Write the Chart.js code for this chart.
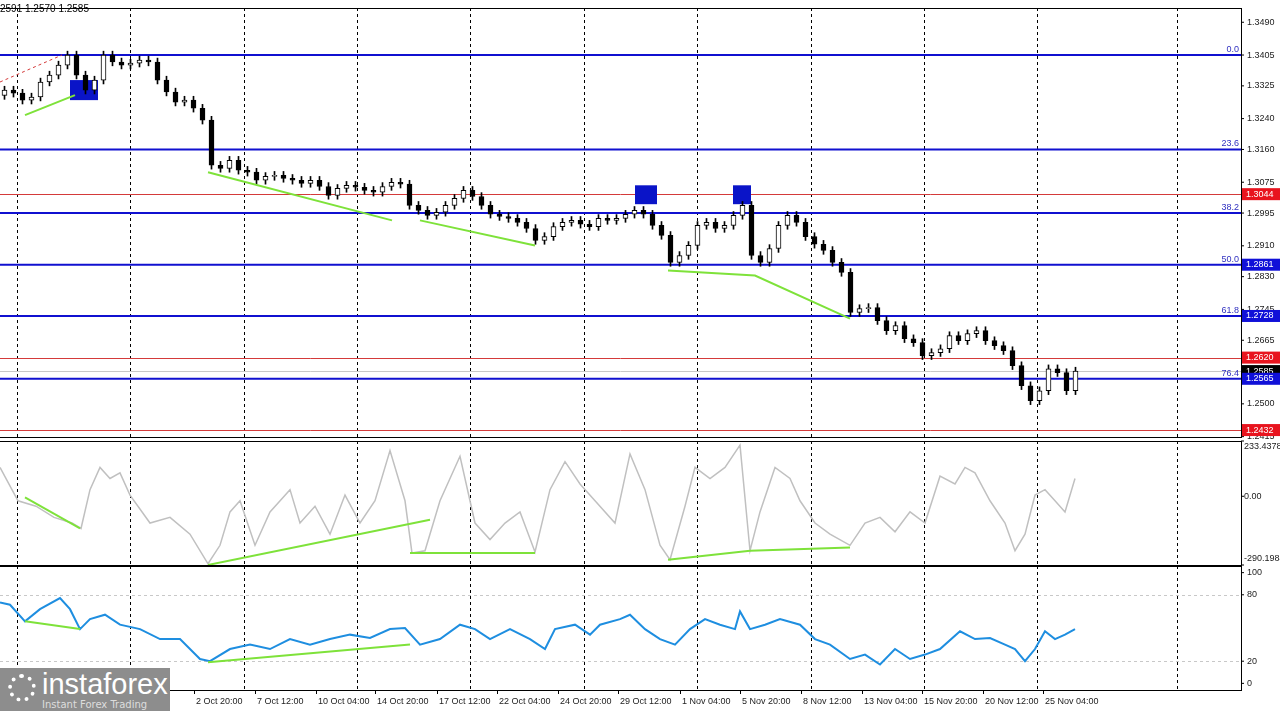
<!DOCTYPE html>
<html><head><meta charset="utf-8">
<script src="https://cdn.jsdelivr.net/npm/chart.js@4.4.1/dist/chart.umd.min.js"></script>
<style>
body{margin:0;background:#fff;width:1280px;height:711px;overflow:hidden;position:relative;font-family:"DejaVu Sans",sans-serif}
canvas{position:absolute;left:0}
#hdr{position:absolute;left:0;top:3px;font-size:10px;font-family:"Liberation Sans",sans-serif;color:#000;z-index:5}
#logo{position:absolute;left:0;top:668px;width:170px;height:43px;background:#8d8d8d;color:#fff;z-index:5}
#logo .a{position:absolute;left:42px;top:0;font-size:29px;font-family:"Liberation Sans",sans-serif}
#logo .b{position:absolute;left:42px;top:31px;font-size:10px;color:#ddd}
#logo .g{position:absolute;left:8px;top:6px;width:28px;height:28px;border-radius:50%;border:4px dotted #fff;box-sizing:border-box}
</style></head><body>
<div id="hdr">2591 1.2570 1.2585</div>
<canvas id="c1" width="1280" height="440" style="top:0"></canvas>
<canvas id="c2" width="1280" height="126" style="top:440px"></canvas>
<canvas id="c3" width="1280" height="145" style="top:566px"></canvas>
<div id="logo"><div class="g"></div><div class="a">instaforex</div><div class="b">Instant Forex Trading</div></div>
<script>
// ---- data ----
const closes=[1.3314,1.3306,1.3288,1.3296,1.3335,1.3353,1.3379,1.3405,1.3353,1.3314,1.3340,1.3405,1.3387,1.3379,1.3384,1.3392,1.3387,1.3340,1.3309,1.3283,1.3288,1.3267,1.3236,1.3119,1.3111,1.3132,1.3106,1.3101,1.3080,1.3090,1.3093,1.3085,1.3080,1.3072,1.3080,1.3064,1.3041,1.3059,1.3067,1.3062,1.3054,1.3049,1.3064,1.3075,1.3070,1.3015,1.3002,1.2989,1.2997,1.3015,1.3033,1.3054,1.3038,1.3015,1.2992,1.2986,1.2981,1.2971,1.2955,1.2924,1.2934,1.2960,1.2971,1.2976,1.2966,1.2960,1.2981,1.2976,1.2981,1.2992,1.3002,1.2992,1.2963,1.2937,1.2867,1.2885,1.2911,1.2963,1.2971,1.2955,1.2963,1.2989,1.3015,1.2885,1.2867,1.2903,1.2963,1.2989,1.2971,1.2934,1.2914,1.2898,1.2867,1.2841,1.2737,1.2747,1.2750,1.2716,1.2690,1.2703,1.2669,1.2659,1.2625,1.2633,1.2643,1.2677,1.2664,1.2682,1.2690,1.2664,1.2651,1.2638,1.2599,1.2547,1.2508,1.2534,1.2591,1.2581,1.2534,1.2585];
const firstOpen=1.3300;
const cciPx=[0,18,36,54,72,81,90,100,110,120,130,150,170,190,208,220,230,240,255,270,290,300,315,330,345,360,375,390,405,412,425,440,460,475,490,505,520,535,550,565,580,595,615,630,645,660,670,685,695,710,725,740,750,760,775,790,800,815,830,850,865,880,895,910,925,940,955,965,975,990,1005,1015,1025,1035,1045,1055,1065,1075];
const cciVals=[122,-19,-42,-89,-113,-136,28,122,75,99,5,-113,-89,-160,-285,-207,-66,-19,-207,-66,28,-113,-42,-160,5,-113,-19,193,-19,-240,-230,-19,169,-113,-183,-113,-66,-235,28,146,52,-19,-113,179,28,-207,-268,-42,122,75,122,216,-230,-66,122,75,-19,-113,-160,-207,-113,-89,-150,-66,-113,85,52,122,99,-19,-113,-230,-160,5,28,-19,-66,75];
const rsiPx=[0,10,25,40,60,70,80,90,105,120,140,160,180,200,210,230,250,270,290,310,330,350,370,390,405,420,440,460,475,490,510,530,545,555,575,590,600,620,630,645,660,675,690,705,720,735,740,750,765,780,800,815,830,850,865,880,895,910,925,940,960,975,990,1005,1015,1025,1035,1045,1055,1065,1075];
const rsiVals=[73,71,56,67,77,67,49,58,62,53,49,40,40,22,20,31,35,31,40,35,40,44,41,49,50,35,40,53,49,40,49,40,31,49,53,44,53,58,62,49,40,35,49,58,53,49,65,49,53,58,53,40,35,22,26,17,31,22,26,31,47,40,41,35,31,20,31,47,40,44,49];
const fibLevels=[1.3405,1.3160,1.2995,1.2861,1.2728,1.2565];
const fibLabels=["0.0","23.6","38.2","50.0","61.8","76.4"];
const redLevels=[1.3044,1.2620,1.2432];
const priceTicks=[1.3490,1.3405,1.3325,1.3240,1.3160,1.3075,1.2995,1.2910,1.2830,1.2745,1.2665,1.2500,1.2415];
const timeLabels=["2 Oct 20:00","7 Oct 12:00","10 Oct 04:00","14 Oct 20:00","17 Oct 12:00","22 Oct 04:00","24 Oct 20:00","29 Oct 12:00","1 Nov 04:00","5 Nov 20:00","8 Nov 12:00","13 Nov 04:00","15 Nov 20:00","20 Nov 12:00","25 Nov 04:00"];
const timeLabelPx=[194,255,316,375,437,497,558,618,680,740,801,862,922,983,1043];
const gridPx=[17,130,244,357,470,584,697,811,924,1037,1177];
const lastPrice=1.2585;
const mainGreen=[[[25,1.3249],[75,1.3301]],[[208,1.3101],[392,1.2976]],[[420,1.2976],[535,1.2911]],[[668,1.2846],[755,1.2833],[850,1.2721]]];
const cciGreen=[[[25,-5],[80,-136]],[[208,-290],[430,-99]],[[410,-240],[535,-240]],[[668,-268],[750,-230],[850,-216]]];
const rsiGreen=[[[25,56],[80,49]],[[208,19],[410,35]]];
const boxes=[[70,98,1.3340,1.3288],[635,657,1.3067,1.3018],[733,751,1.3067,1.3018]];

const PW=1241, BAR=9;
const FONT='9px "Liberation Sans", sans-serif';
const toBar=p=>(p-4.5)/BAR;
const xMin=-0.5, xMax=-0.5+PW/BAR;
const opens=closes.map((c,i)=>i?closes[i-1]:firstOpen);
const idx=closes.map((c,i)=>i);

function xScale(){return {type:'linear',min:xMin,max:xMax,display:false,offset:false};}
function yFit(s){s.width=39;}
function greenSets(list){return list.map(seg=>({type:'line',data:seg.map(p=>({x:toBar(p[0]),y:p[1]})),borderColor:'#7ee23a',borderWidth:2,pointRadius:0,order:0}));}

const common={responsive:false,animation:false,layout:{padding:0},plugins:{legend:{display:false},tooltip:{enabled:false}}};

const frame={id:'frame',beforeDatasetsDraw(ch){const {ctx,chartArea:ca}=ch;ctx.save();ctx.strokeStyle='#000';ctx.setLineDash([3,3]);ctx.lineWidth=1;
 gridPx.forEach(x=>{ctx.beginPath();ctx.moveTo(x+.5,ca.top);ctx.lineTo(x+.5,ca.bottom);ctx.stroke();});
 ctx.setLineDash([]);ctx.strokeRect(-1,ca.top+.5,ca.right+1.5,ca.bottom-ca.top);ctx.restore();}};

const mainPlug={id:'mainPlug',beforeDatasetsDraw(ch){const {ctx,chartArea:ca,scales:{x,y}}=ch;ctx.save();
 redLevels.forEach(v=>{const py=Math.round(y.getPixelForValue(v))+.5;ctx.strokeStyle='#d43a3a';ctx.lineWidth=1;ctx.beginPath();ctx.moveTo(0,py);ctx.lineTo(ca.right,py);ctx.stroke();});
 let py=Math.round(y.getPixelForValue(lastPrice))+.5;ctx.strokeStyle='#c8c8c8';ctx.beginPath();ctx.moveTo(0,py);ctx.lineTo(ca.right,py);ctx.stroke();
 fibLevels.forEach((v,i)=>{const py=y.getPixelForValue(v);ctx.strokeStyle='#1010d0';ctx.lineWidth=2;ctx.beginPath();ctx.moveTo(0,py);ctx.lineTo(ca.right,py);ctx.stroke();
  ctx.fillStyle='#3030c0';ctx.font=FONT;ctx.textAlign='right';ctx.fillText(fibLabels[i],ca.right-2,py-3);});
 ctx.strokeStyle='#d43a3a';ctx.setLineDash([3,3]);ctx.lineWidth=1;ctx.beginPath();ctx.moveTo(0,y.getPixelForValue(1.3335));ctx.lineTo(x.getPixelForValue(toBar(62)),y.getPixelForValue(1.3405));ctx.stroke();ctx.setLineDash([]);
 boxes.forEach(b=>{const x1=x.getPixelForValue(toBar(b[0])),x2=x.getPixelForValue(toBar(b[1])),y1=y.getPixelForValue(b[2]),y2=y.getPixelForValue(b[3]);ctx.fillStyle='#0a14c8';ctx.fillRect(x1,y1,x2-x1,y2-y1);});
 ctx.restore();},
 afterDraw(ch){const {ctx,chartArea:ca,scales:{y}}=ch;ctx.save();ctx.font=FONT;ctx.textBaseline='middle';ctx.textAlign='left';
 priceTicks.forEach(v=>{const py=y.getPixelForValue(v);ctx.strokeStyle='#000';ctx.beginPath();ctx.moveTo(ca.right,py);ctx.lineTo(ca.right+3,py);ctx.stroke();ctx.fillStyle='#222';ctx.fillText(v.toFixed(4),ca.right+6,py);});
 const tag=(v,c)=>{const py=y.getPixelForValue(v);ctx.fillStyle=c;ctx.fillRect(ca.right+1,py-6,38,12);ctx.fillStyle='#fff';ctx.fillText(v.toFixed(4),ca.right+5,py);};
 redLevels.forEach(v=>tag(v,'#e8141e'));tag(lastPrice,'#000');[1.2861,1.2728,1.2565].forEach(v=>tag(v,'#1010d8'));
 ctx.restore();}};

new Chart(document.getElementById('c1'),{type:'bar',data:{datasets:[
 {data:idx.map(i=>({x:i,y:[Math.min(opens[i],closes[i]),Math.max(opens[i],closes[i])]})),backgroundColor:idx.map(i=>closes[i]>=opens[i]?'#ffffff':'#000'),borderColor:'#000',borderWidth:1,borderSkipped:false,barThickness:5,grouped:false,order:1},
 {data:idx.map(i=>({x:i,y:[Math.min(opens[i],closes[i])-0.0010,Math.max(opens[i],closes[i])+0.0010]})),backgroundColor:'#000',barThickness:1,grouped:false,order:2},
 ...greenSets(mainGreen)]},
 options:{...common,layout:{padding:{top:8,bottom:3}},scales:{x:xScale(),y:{position:'right',min:1.2414,max:1.3527,ticks:{display:false},grid:{display:false},border:{display:false},afterFit:yFit}}},
 plugins:[frame,mainPlug]});

const cciPlug={id:'cci',afterDraw(ch){const {ctx,chartArea:ca,scales:{y}}=ch;ctx.save();ctx.font=FONT;ctx.textBaseline='middle';ctx.fillStyle='#222';
 [[233.4378,'233.4378',6],[0,'0.00',0],[-290.1984,'-290.1984',-6]].forEach(t=>{const py=y.getPixelForValue(t[0]);ctx.beginPath();ctx.moveTo(ca.right,py);ctx.lineTo(ca.right+3,py);ctx.stroke();ctx.fillText(t[1],ca.right+3,py+t[2]);});ctx.restore();}};
new Chart(document.getElementById('c2'),{type:'line',data:{datasets:[
 {data:cciPx.map((p,i)=>({x:toBar(p),y:cciVals[i]})),borderColor:'#c0c0c0',borderWidth:1.5,pointRadius:0,order:1},...greenSets(cciGreen)]},
 options:{...common,layout:{padding:{top:1,bottom:1}},scales:{x:xScale(),y:{position:'right',min:-290.1984,max:233.4378,ticks:{display:false},grid:{display:false},border:{display:false},afterFit:yFit}}},
 plugins:[frame,cciPlug]});

const rsiPlug={id:'rsi',beforeDatasetsDraw(ch){const {ctx,chartArea:ca,scales:{y}}=ch;ctx.save();ctx.strokeStyle='#c8c8c8';ctx.setLineDash([3,3]);
 [80,20].forEach(v=>{const py=Math.round(y.getPixelForValue(v))+.5;ctx.beginPath();ctx.moveTo(0,py);ctx.lineTo(ca.right,py);ctx.stroke();});ctx.restore();},
 afterDraw(ch){const {ctx,chartArea:ca}=ch;ctx.save();ctx.font=FONT;ctx.textBaseline='middle';ctx.fillStyle='#222';
 [100,80,20,0].forEach(v=>{const py=ch.scales.y.getPixelForValue(v);ctx.beginPath();ctx.moveTo(ca.right,py);ctx.lineTo(ca.right+3,py);ctx.stroke();ctx.fillText(String(v),ca.right+6,py);});
 ctx.textBaseline='top';ctx.textAlign='left';
 timeLabelPx.forEach((p,i)=>{ctx.beginPath();ctx.moveTo(p+.5,ca.bottom);ctx.lineTo(p+.5,ca.bottom+4);ctx.stroke();ctx.fillText(timeLabels[i],p+2,ca.bottom+7);});
 ctx.restore();}};
new Chart(document.getElementById('c3'),{type:'line',data:{datasets:[
 {data:rsiPx.map((p,i)=>({x:toBar(p),y:rsiVals[i]})),borderColor:'#1e8ee0',borderWidth:2,pointRadius:0,order:1},...greenSets(rsiGreen)]},
 options:{...common,layout:{padding:{top:0,bottom:21}},scales:{x:xScale(),y:{position:'right',min:-6,max:106,ticks:{display:false},grid:{display:false},border:{display:false},afterFit:yFit}}},
 plugins:[frame,rsiPlug]});
</script></body></html>
